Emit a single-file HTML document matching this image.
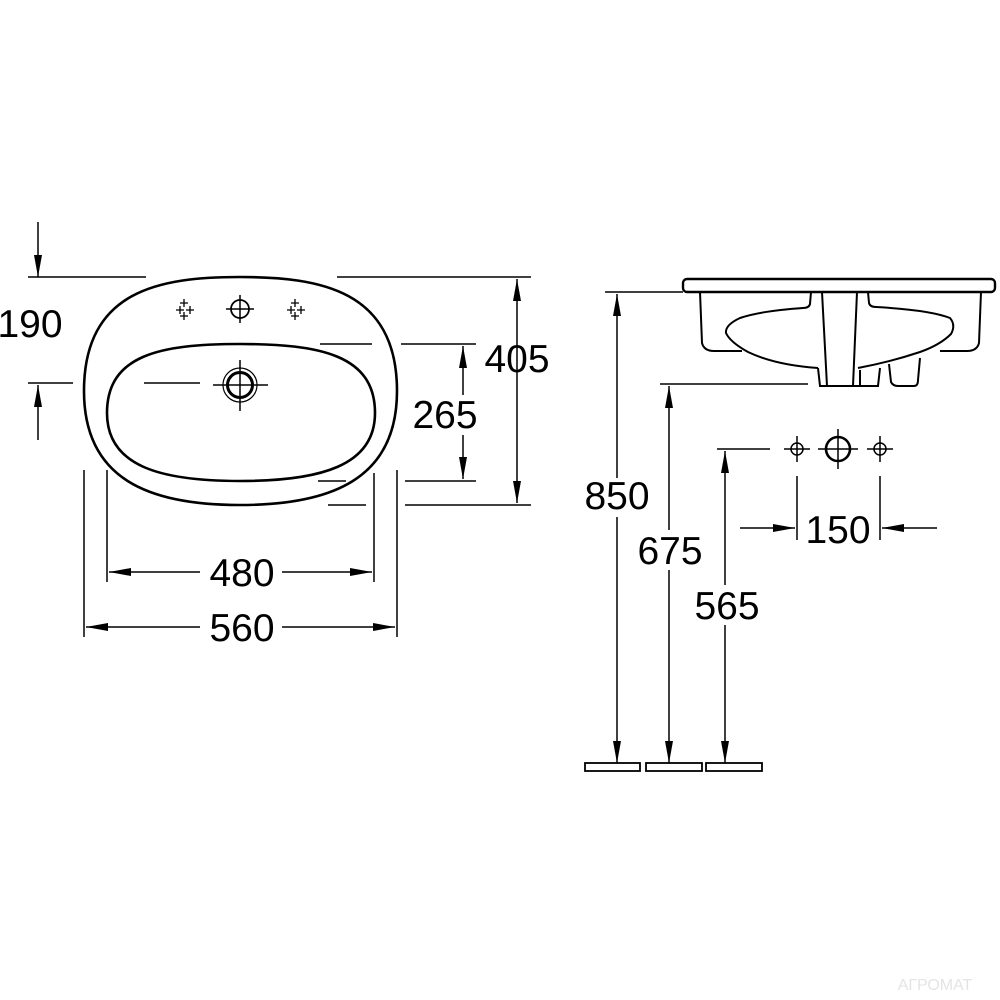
<!DOCTYPE html>
<html><head><meta charset="utf-8"><style>html,body{margin:0;padding:0;background:#fff}svg{display:block}</style></head><body>
<svg width="1000" height="1000" viewBox="0 0 1000 1000" xmlns="http://www.w3.org/2000/svg">
<defs>
<marker id="a" viewBox="0 0 22 8" refX="22" refY="4" markerWidth="22" markerHeight="8" markerUnits="userSpaceOnUse" orient="auto-start-reverse"><path d="M0,0 L22,4 L0,8 z" fill="#000"/></marker>
</defs>
<g fill="none" stroke="#000" stroke-width="1.5">
<path d="M240,277 C320,277 397,290 397,391 C397,480 330,505 240,505 C150,505 84,480 84,391 C84,290 160,277 240,277 Z" stroke-width="2.6"/>
<path d="M240,344 C320,344 375,355 375,413 C375,466 320,481 240,481 C160,481 107,466 107,413 C107,355 160,344 240,344 Z" stroke-width="2.6"/>
<circle cx="240" cy="309" r="9" stroke-width="1.8"/>
<path d="M226,309 H254 M240,295 V323"/>
<g stroke-width="1.3">
<path d="M180,303 h8 M184,299 v8 M176,310 h8 M180,306 v8 M186,310 h8 M190,306 v8 M180,316 h8 M184,312 v8"/>
<path d="M291,303 h8 M295,299 v8 M287,310 h8 M291,306 v8 M297,310 h8 M301,306 v8 M291,316 h8 M295,312 v8"/>
</g>
<circle cx="240" cy="385" r="17" stroke-width="1.2"/>
<circle cx="240" cy="385" r="12.5" stroke-width="3"/>
<path d="M213,385 H268 M240,360 V411"/>
<path d="M38,222 V277" marker-end="url(#a)"/>
<path d="M28,277 H146"/>
<path d="M28,383 H73 M144,383 H200"/>
<path d="M38,440 V385" marker-end="url(#a)"/>
<path d="M337,277 H531 M405,505 H531 M328,505 H366"/>
<path d="M517,279 V503" marker-start="url(#a)" marker-end="url(#a)"/>
<path d="M320,344 H372 M401,344 H476 M318,481 H346 M405,481 H476"/>
<path d="M463,395 V346" marker-end="url(#a)"/>
<path d="M463,435 V479" marker-end="url(#a)"/>
<path d="M107,470 V582 M374,473 V582"/>
<path d="M200,572 H109" marker-end="url(#a)"/>
<path d="M282,572 H372" marker-end="url(#a)"/>
<path d="M84,470 V637 M397,470 V637"/>
<path d="M200,627 H86" marker-end="url(#a)"/>
<path d="M282,627 H395" marker-end="url(#a)"/>

<rect x="683" y="279" width="312" height="13" rx="4" stroke-width="2.4"/>
<g stroke-width="2">
<path d="M700,292 L702,343 Q704,351 714,351 L742,351"/>
<path d="M811,292 L810,304 Q809,308 803,308 Q760,311 740,318 Q725,325 726,333 Q730,342 748,352 Q775,365 818,368"/>
<path d="M822,292 L827,386 M857,292 L853,386"/>
<path d="M818,368 L820,386 L860,386"/>
<path d="M868,292 L869,303 Q870,307 876,307 Q930,310 950,318 Q956,325 951,334 Q940,345 920,352 Q890,362 858,368"/>
<path d="M981,292 L979,343 Q977,351 967,351 L940,351"/>
<path d="M860,370 L860,386 L878,386 L880,368"/>
<path d="M889,364 L891,382 Q893,386 898,386 L914,386 Q918,386 918,380 L920,358"/>
</g>
<path d="M605,292 H683"/>
<path d="M617,478 V294" marker-end="url(#a)"/>
<path d="M617,517 V763" marker-end="url(#a)"/>
<path d="M660,384 H808"/>
<path d="M669,530 V386" marker-end="url(#a)"/>
<path d="M669,570 V763" marker-end="url(#a)"/>
<path d="M717,449 H770"/>
<path d="M725,585 V451" marker-end="url(#a)"/>
<path d="M725,625 V763" marker-end="url(#a)"/>
<rect x="585" y="763" width="55" height="8" stroke-width="1.8"/>
<rect x="646" y="763" width="56" height="8" stroke-width="1.8"/>
<rect x="706" y="763" width="56" height="8" stroke-width="1.8"/>
<circle cx="797" cy="449" r="6"/>
<path d="M784,449 H810 M797,436 V462"/>
<circle cx="838" cy="449" r="12" stroke-width="2.6"/>
<path d="M818,449 H858 M838,429 V469"/>
<circle cx="880" cy="449" r="6"/>
<path d="M867,449 H893 M880,436 V462"/>
<path d="M797,476 V540 M880,476 V540"/>
<path d="M740,528 H795" marker-end="url(#a)"/>
<path d="M937,528 H882" marker-end="url(#a)"/>
</g>
<g font-family="Liberation Sans, sans-serif" font-size="39" fill="#000" text-anchor="middle">
<text x="30" y="337">190</text>
<text x="517" y="372">405</text>
<text x="445" y="428">265</text>
<text x="242" y="586">480</text>
<text x="242" y="641">560</text>
<text x="617" y="509">850</text>
<text x="670" y="564">675</text>
<text x="727" y="619">565</text>
<text x="838" y="543">150</text>
</g>
<text x="935" y="990" font-family="Liberation Sans, sans-serif" font-size="16" fill="#e4e4e4" text-anchor="middle">АГРОМАТ</text>
</svg>
</body></html>
